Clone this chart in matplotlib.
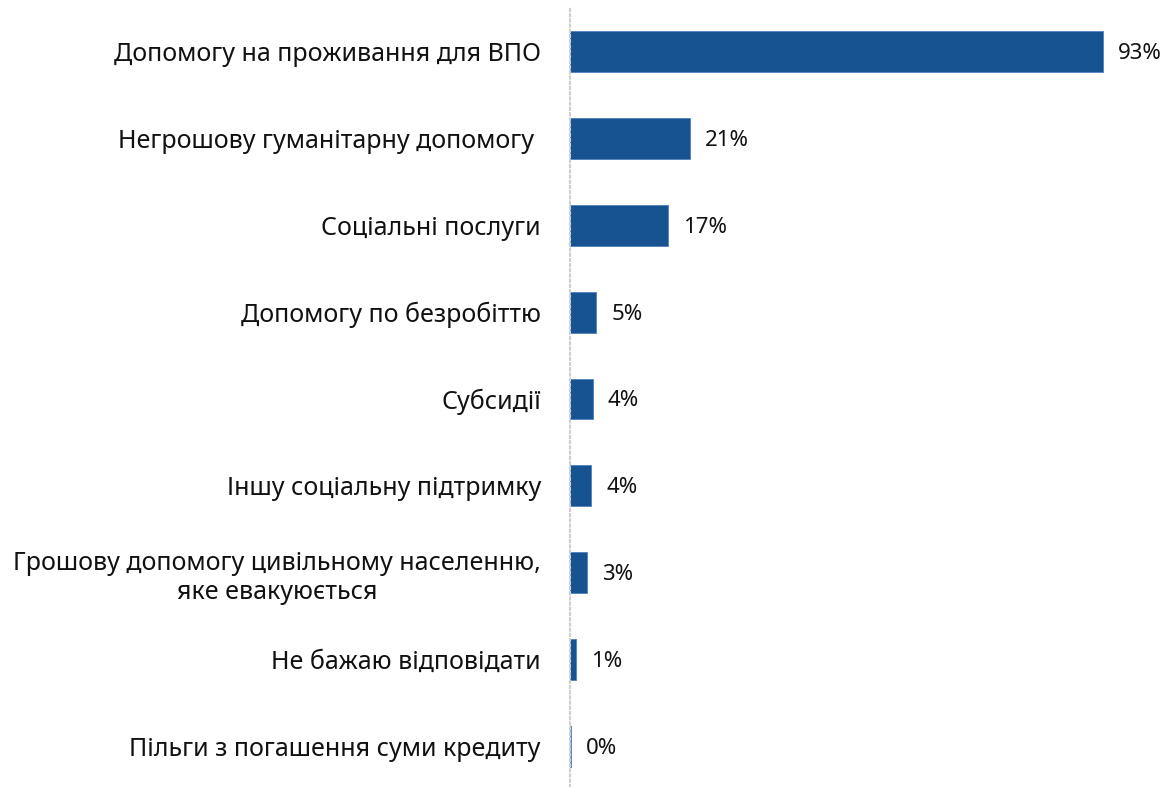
import matplotlib
matplotlib.use("Agg")
import matplotlib.pyplot as plt

categories = [
    "Допомогу на проживання для ВПО",
    "Негрошову гуманітарну допомогу ",
    "Соціальні послуги",
    "Допомогу по безробіттю",
    "Субсидії",
    "Іншу соціальну підтримку",
    "Грошову допомогу цивільному населенню,\nяке евакуюється",
    "Не бажаю відповідати",
    "Пільги з погашення суми кредиту",
]
values = [93.0, 20.9, 17.1, 4.6, 4.0, 3.7, 2.9, 1.1, 0.15]
value_labels = ["93%", "21%", "17%", "5%", "4%", "4%", "3%", "1%", "0%"]

plt.rcParams['font.family'] = ['Noto Sans', 'DejaVu Sans']

fig = plt.figure(figsize=(11.68, 7.87), dpi=100)
ax = fig.add_axes([570/1168, 0.0, (1143-570)/1168, 1 - 8/787])

bar_color = '#175391'
y = list(range(len(categories)))
ax.barh(y, values, height=0.47, color=bar_color, edgecolor='#4f82bd', linewidth=0.6)

for yi, v, lab in zip(y, values, value_labels):
    ax.annotate(lab, xy=(v, yi), xytext=(15, -2), textcoords='offset pixels',
                ha='left', va='center', fontsize=16, color='#111111')

ax.set_xlim(0, 100)
ax.set_ylim(8.466, -0.5)
ax.set_yticks(y)
ax.set_yticklabels(categories, fontsize=18, color='#111111')
for t in ax.get_yticklabels():
    t.set_multialignment('center')
    t.set_linespacing(1.2)
ax.tick_params(axis='y', length=0, pad=21)
ax.set_xticks([])
for s in ['top', 'right', 'bottom']:
    ax.spines[s].set_visible(False)
ax.spines['left'].set_linestyle((0, (1, 1.5)))
ax.spines['left'].set_color('#cfcfcf')
ax.spines['left'].set_linewidth(1.5)
ax.set_facecolor('white')
fig.patch.set_facecolor('white')

fig.savefig('out.png', dpi=100, facecolor='white')
